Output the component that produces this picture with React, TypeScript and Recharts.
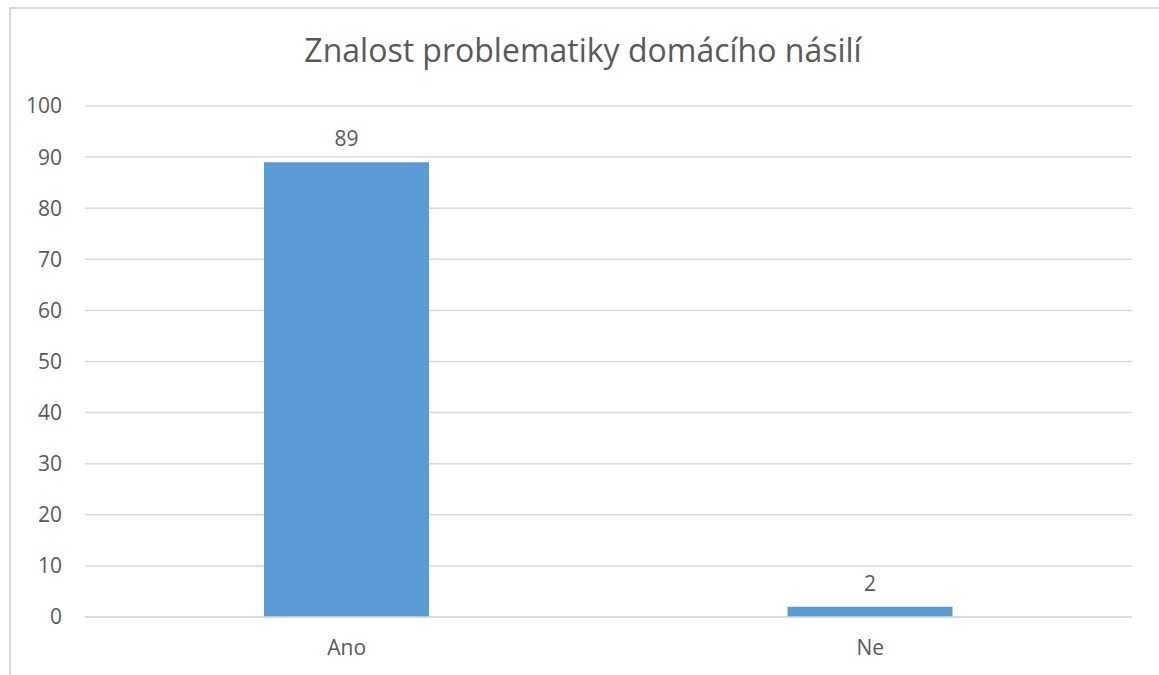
import { BarChart, Bar, XAxis, YAxis, CartesianGrid, LabelList } from 'recharts';

const categories = ['Ano', 'Ne'];
const values = [89, 2];
const yTicks = [0, 10, 20, 30, 40, 50, 60, 70, 80, 90, 100];

const data = categories.map((name, i) => ({ name, value: values[i] }));

const grey = '#595959';
const font = '"Open Sans", sans-serif';

export default function App() {
  return (
    <div style={{ position: 'absolute', left: 0, top: 0, width: 1159, height: 675, background: '#fff', overflow: 'hidden' }}>
      {/* chart frame, only top and left edges are visible in the crop */}
      <div
        style={{
          position: 'absolute',
          left: 9,
          top: 7,
          width: 1200,
          height: 700,
          borderTop: '2px solid #d9d9d9',
          borderLeft: '2px solid #d9d9d9',
          boxSizing: 'border-box',
        }}
      />
      <svg width={1159} height={675} style={{ position: 'absolute', left: 0, top: 0 }}>
        <text x={583} y={62} textAnchor="middle" fill={grey} fontFamily={font} fontSize={32}>
          Znalost problematiky domácího násilí
        </text>
      </svg>
      <div style={{ position: 'absolute', left: 0, top: 0 }}>
        <BarChart
          width={1159}
          height={675}
          data={data}
          margin={{ top: 106, right: 27, bottom: 28, left: 0 }}
        >
          <CartesianGrid vertical={false} stroke="#d9d9d9" strokeWidth={1.5} />
          <XAxis
            dataKey="name"
            height={30}
            axisLine={{ stroke: '#d9d9d9', strokeWidth: 1.5 }}
            tickLine={false}
            tickSize={0}
            tickMargin={23}
            tick={{ fill: grey, fontSize: 21, fontFamily: font }}
          />
          <YAxis
            width={85}
            domain={[0, 100]}
            ticks={yTicks}
            axisLine={false}
            tickLine={false}
            tickSize={0}
            tickMargin={23}
            tick={{ fill: grey, fontSize: 21, fontFamily: font }}
          />
          <Bar dataKey="value" fill="#5b9bd5" barSize={165} isAnimationActive={false}>
            <LabelList dataKey="value" position="top" offset={16} fill={grey} fontSize={21} fontFamily={font} />
          </Bar>
        </BarChart>
      </div>
    </div>
  );
}
